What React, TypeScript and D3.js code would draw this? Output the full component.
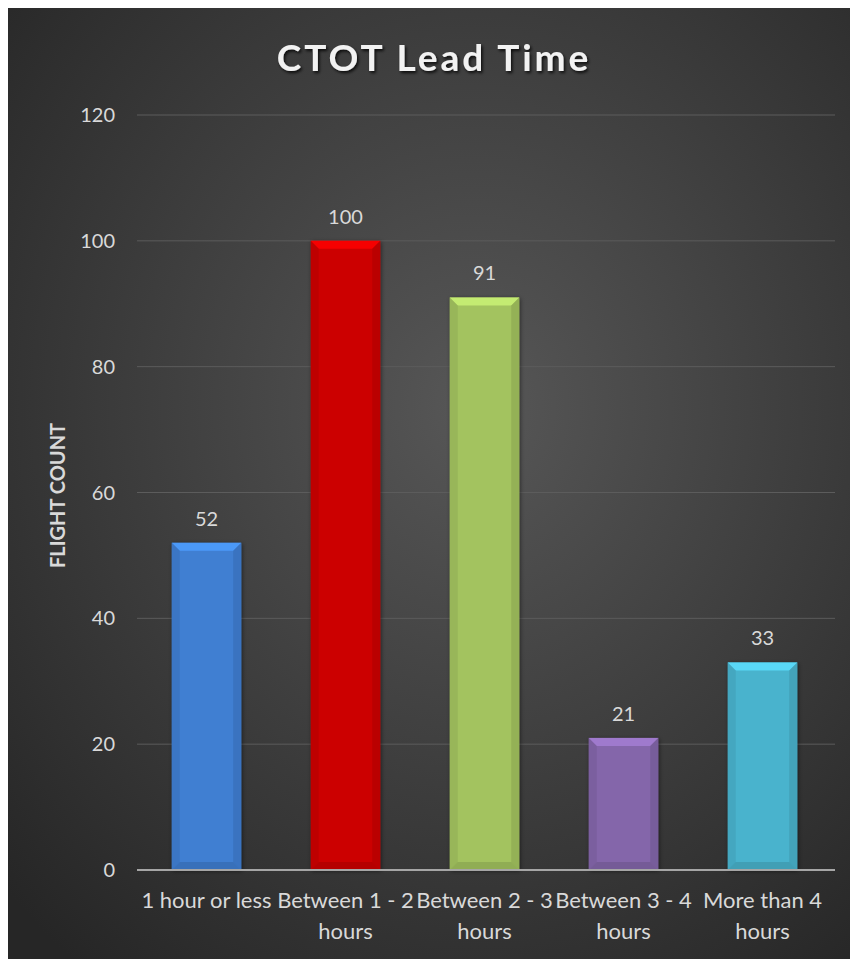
import React from "react";
import * as d3 from "d3";

const categories = ["1 hour or less", "Between 1 - 2 hours", "Between 2 - 3 hours", "Between 3 - 4 hours", "More than 4 hours"];
const categoryLines = [["1 hour or less"], ["Between 1 - 2", "hours"], ["Between 2 - 3", "hours"], ["Between 3 - 4", "hours"], ["More than 4", "hours"]];
const values = [52, 100, 91, 21, 33];
const barColors = ["#3f7fd2", "#cc0000", "#a3c35f", "#8466aa", "#4ab3cd"];
const yTicks = [0, 20, 40, 60, 80, 100, 120];
const title = "CTOT Lead Time";
const yTitle = "FLIGHT COUNT";

const W = 850;
const H = 951;
const FONT = "Lato, 'Open Sans', sans-serif";

export default function App() {
  const x = d3.scaleBand<string>().domain(categories).range([129, 824]).paddingInner(0.5).paddingOuter(0.25);
  const y = d3.scaleLinear().domain([0, 120]).range([862, 107]);
  const bw = x.bandwidth();
  const bev = 8;

  return (
    <svg width={W} height={H} style={{ display: "block" }}>
      <defs>
        <radialGradient id="bg" cx="0.55" cy="0.42" r="0.75">
          <stop offset="0" stopColor="#575757" />
          <stop offset="1" stopColor="#262626" />
        </radialGradient>
        <filter id="tshadow" x="-10%" y="-30%" width="120%" height="160%">
          <feDropShadow dx="1.5" dy="2" stdDeviation="1.5" floodColor="#000" floodOpacity="0.8" />
        </filter>
        <filter id="bshadow" x="-20%" y="-10%" width="140%" height="120%">
          <feDropShadow dx="1" dy="1" stdDeviation="2" floodColor="#000" floodOpacity="0.5" />
        </filter>
      </defs>
      <rect x={0} y={0} width={W} height={H} fill="url(#bg)" />
      <text x={426} y={63} textAnchor="middle" fill="#f2f2f2" fontFamily={FONT} fontWeight={700} fontSize={37} letterSpacing={3} filter="url(#tshadow)">{title}</text>
      {yTicks.map((t) => (
        <g key={t}>
          {t !== 0 && <line x1={129} x2={827} y1={y(t)} y2={y(t)} stroke="#5c5c5c" strokeWidth={1} />}
          <text x={107} y={y(t) + 7} textAnchor="end" fill="#d9d9d9" fontFamily={FONT} fontSize={20}>{t}</text>
        </g>
      ))}
      <text transform={`translate(49,${y(60) + 3}) rotate(-90)`} textAnchor="middle" dominantBaseline="central" fill="#d9d9d9" fontFamily={FONT} fontWeight={700} fontSize={20}>{yTitle}</text>
      {categories.map((c, i) => {
        const x0 = x(c)!;
        const x1 = x0 + bw;
        const y0 = y(values[i]);
        const y1 = y(0);
        const col = d3.color(barColors[i])!;
        const light = col.brighter(0.6).formatHex();
        const dark = col.darker(0.5).formatHex();
        const darker = col.darker(0.8).formatHex();
        return (
          <g key={c}>
            <rect x={x0} y={y0} width={bw} height={y1 - y0} fill={barColors[i]} filter="url(#bshadow)" />
            <polygon points={`${x0},${y0} ${x1},${y0} ${x1 - bev},${y0 + bev} ${x0 + bev},${y0 + bev}`} fill={light} opacity={0.85} />
            <polygon points={`${x0},${y0} ${x0 + bev},${y0 + bev} ${x0 + bev},${y1 - bev} ${x0},${y1}`} fill={dark} opacity={0.4} />
            <polygon points={`${x1},${y0} ${x1 - bev},${y0 + bev} ${x1 - bev},${y1 - bev} ${x1},${y1}`} fill={dark} opacity={0.55} />
            <polygon points={`${x0},${y1} ${x0 + bev},${y1 - bev} ${x1 - bev},${y1 - bev} ${x1},${y1}`} fill={darker} opacity={0.45} />
            <text x={x0 + bw / 2} y={y0 - 17} textAnchor="middle" fill="#d9d9d9" fontFamily={FONT} fontSize={20}>{values[i]}</text>
            {categoryLines[i].map((ln, j) => (
              <text key={j} x={x0 + bw / 2} y={900 + j * 31} textAnchor="middle" fill="#d9d9d9" fontFamily={FONT} fontSize={22}>{ln}</text>
            ))}
          </g>
        );
      })}
      <line x1={129} x2={827} y1={y(0)} y2={y(0)} stroke="#a6a6a6" strokeWidth={2} />
    </svg>
  );
}
